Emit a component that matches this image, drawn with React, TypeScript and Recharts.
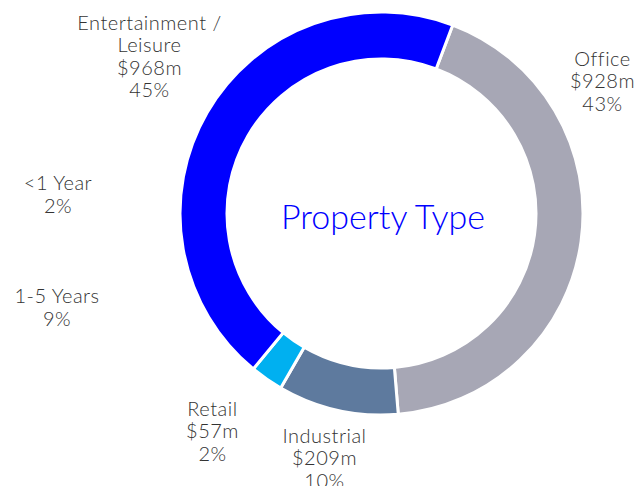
import { Cell, Pie, PieChart } from "recharts";

const categories = ["Office", "Industrial", "Retail", "Entertainment / Leisure"];
const valuesM = [928, 209, 57, 968];
const percents = [43, 10, 2, 45];

const strayNames = ["<1 Year", "1-5 Years"];
const strayPercents = [2, 9];

const COLORS = ["#A7A7B5", "#5E7A9E", "#00B0F0", "#0000FF"];
const FONT = "Lato, 'Open Sans', sans-serif";
const TEXT = "#333333";

// label centre positions relative to the pie centre (first line)
const LABEL_POS = [
  { dx: 221, dy: -156 },
  { dx: -57, dy: 221 },
  { dx: -169, dy: 194 },
  { dx: -232, dy: -192 },
];
const STRAY_POS = [
  { x: 58, y: 182 },
  { x: 57, y: 295 },
];

const data = categories.map((name, i) => ({ name, value: valuesM[i], pct: percents[i] }));

interface LabelProps {
  cx?: number;
  cy?: number;
  index?: number;
}

function SliceLabel({ cx, cy, index }: LabelProps) {
  if (cx == null || cy == null || index == null) return null;
  const d = data[index];
  const pos = LABEL_POS[index];
  const x = cx + pos.dx;
  const y = cy + pos.dy;
  const lines =
    d.name === "Entertainment / Leisure"
      ? ["Entertainment /", "Leisure", `$${d.value}m`, `${d.pct}%`]
      : [d.name, `$${d.value}m`, `${d.pct}%`];
  return (
    <text
      x={x}
      y={y}
      textAnchor="middle"
      dominantBaseline="central"
      fill={TEXT}
      fontSize={20}
      fontWeight={300}
      letterSpacing={0.5}
      fontFamily={FONT}
    >
      {lines.map((l, i) => (
        <tspan key={i} x={x} dy={i === 0 ? 0 : 22.5}>
          {l}
        </tspan>
      ))}
    </text>
  );
}

export default function App() {
  return (
    <div style={{ position: "absolute", left: 0, top: 0, width: 644, height: 486, background: "#fff" }}>
      <PieChart width={644} height={486} margin={{ top: 0, right: 0, bottom: 0, left: 0 }}>
        <Pie
          data={data}
          dataKey="value"
          nameKey="name"
          cx={381.5}
          cy={213.5}
          innerRadius={154.5}
          outerRadius={201.5}
          startAngle={69.3}
          endAngle={-290.7}
          stroke="#ffffff"
          strokeWidth={3}
          label={(p: LabelProps) => <SliceLabel {...p} />}
          labelLine={false}
          isAnimationActive={false}
        >
          {data.map((d, i) => (
            <Cell key={d.name} fill={COLORS[i]} />
          ))}
        </Pie>
      </PieChart>
      <div
        style={{
          position: "absolute",
          left: 383 - 150,
          top: 216 - 20,
          width: 300,
          height: 40,
          lineHeight: "40px",
          textAlign: "center",
          fontFamily: FONT,
          fontSize: 34,
          fontWeight: 300,
          color: "#0000FF",
        }}
      >
        Property Type
      </div>
      {strayNames.map((n, i) => (
        <div
          key={n}
          style={{
            position: "absolute",
            left: STRAY_POS[i].x - 60,
            top: STRAY_POS[i].y - 11,
            width: 120,
            textAlign: "center",
            fontFamily: FONT,
            fontSize: 20,
            fontWeight: 300,
            letterSpacing: 0.5,
            lineHeight: "22.5px",
            color: TEXT,
          }}
        >
          {n}
          <br />
          {strayPercents[i]}%
        </div>
      ))}
    </div>
  );
}
